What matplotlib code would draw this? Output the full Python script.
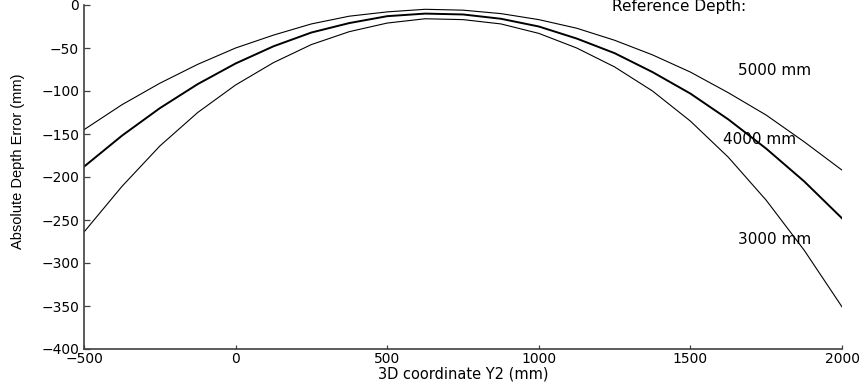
import matplotlib
matplotlib.use("Agg")
import matplotlib.pyplot as plt

# Data
y2_mm = [-500, -375, -250, -125, 0, 125, 250, 375, 500, 625, 750,
         875, 1000, 1125, 1250, 1375, 1500, 1625, 1750, 1875, 2000]

err_5000 = [-145, -116, -91, -69, -50, -35, -22, -13, -8, -5, -6,
            -10, -17, -27, -41, -58, -78, -102, -128, -159, -192]
err_4000 = [-188, -152, -120, -92, -68, -48, -32, -21, -13, -10, -11,
            -16, -25, -39, -56, -78, -103, -133, -167, -205, -248]
err_3000 = [-264, -211, -164, -125, -93, -67, -46, -31, -21, -16, -17,
            -22, -33, -50, -72, -100, -135, -177, -227, -285, -351]

x_ticks = [-500, 0, 500, 1000, 1500, 2000]
y_ticks = [0, -50, -100, -150, -200, -250, -300, -350, -400]

labels = ["5000 mm", "4000 mm", "3000 mm"]
label_pos = [(1657, -75.6), (1607, -156), (1657, -273)]

plt.rcParams['font.family'] = ['DejaVu Sans']

fig = plt.figure(figsize=(8.66, 3.87), dpi=100)
ax = fig.add_axes([84/866, 1 - 349/387, (842 - 84)/866, (349 - 5)/387])

ax.plot(y2_mm, err_5000, color='black', lw=0.8)
ax.plot(y2_mm, err_4000, color='black', lw=1.4)
ax.plot(y2_mm, err_3000, color='black', lw=0.8)

ax.set_xlim(-500, 2000)
ax.set_ylim(-400, 0)
ax.set_xticks(x_ticks)
ax.set_yticks(y_ticks)

for s in ['top', 'right']:
    ax.spines[s].set_visible(False)
for s in ['left', 'bottom']:
    ax.spines[s].set_color('#404040')
    ax.spines[s].set_linewidth(1.2)

ax.tick_params(axis='both', direction='in', color='#404040', width=0.9,
               labelsize=10, labelcolor='black')
ax.tick_params(axis='y', length=4.0, pad=3.5)
ax.tick_params(axis='x', length=3.0, pad=2.5)

ax.set_xlabel("3D coordinate Y2 (mm)", fontsize=10.5, labelpad=0)
ax.set_ylabel("Absolute Depth Error (mm)", fontsize=10.5,
              family=['Liberation Sans', 'DejaVu Sans'])
ax.yaxis.set_label_coords((25 - 84) / 758, (349 - 161) / 344)

ax.text(1241, -2.3, "Reference Depth:", fontsize=11, ha='left', va='center',
        clip_on=False)
for lab, (lx, ly) in zip(labels, label_pos):
    ax.text(lx, ly, lab, fontsize=11, ha='left', va='center', clip_on=False)

fig.savefig("out.png", dpi=100)
